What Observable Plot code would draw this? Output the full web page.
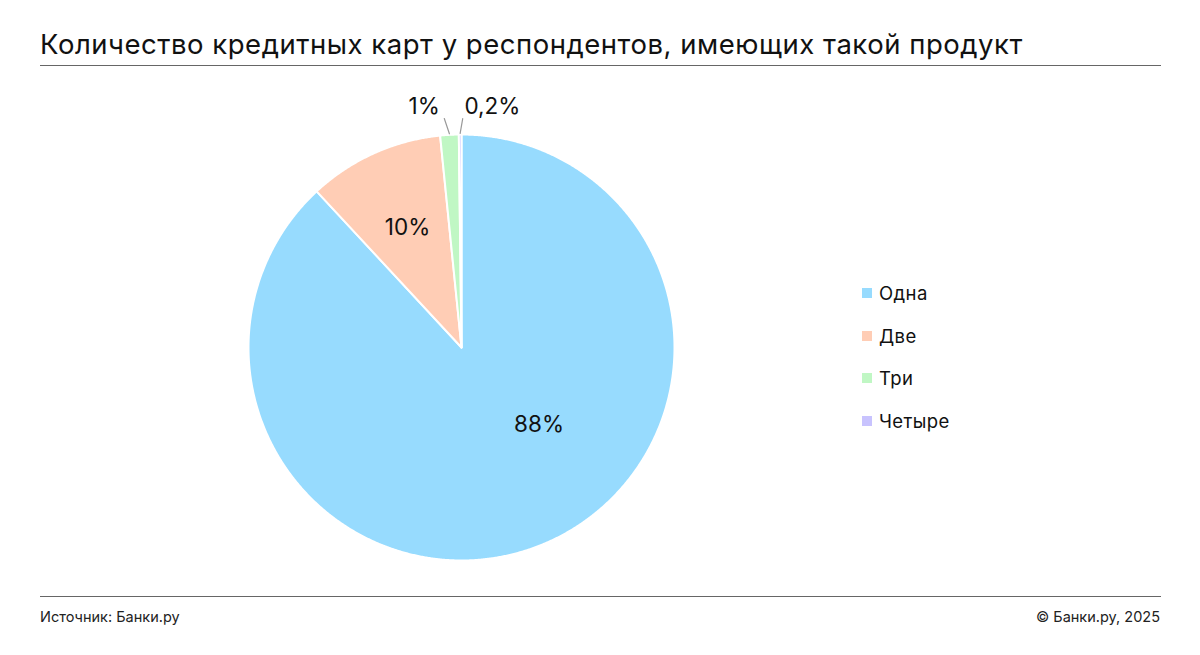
<!DOCTYPE html>
<html>
<head>
<meta charset="utf-8">
<script src="https://cdn.jsdelivr.net/npm/d3@7"></script>
<script src="https://cdn.jsdelivr.net/npm/@observablehq/plot@0.6"></script>
<style>
  html, body { margin: 0; padding: 0; background: #fff; }
  body { width: 1200px; height: 655px; position: relative; font-family: Inter, "Noto Sans", sans-serif; color: #111; overflow: hidden; }
  #title { position: absolute; left: 40px; top: 27px; font-size: 27.5px; line-height: 34px; letter-spacing: 0.52px; white-space: nowrap; }
  .rule { position: absolute; left: 40px; width: 1121px; height: 1px; background: #666; }
  #chart { position: absolute; left: 40px; top: 67px; }
  #legend { position: absolute; left: 862px; top: 281px; font-size: 18.5px; letter-spacing: 0.4px; }
  .item { display: flex; align-items: center; height: 24px; margin-bottom: 18.7px; }
  .sw { width: 10px; height: 10px; margin-right: 7px; }
  .foot { position: absolute; top: 608px; font-size: 14.5px; color: #222; }
</style>
</head>
<body>
<div id="title">Количество кредитных карт у респондентов, имеющих такой продукт</div>
<div class="rule" style="top:65px"></div>
<div id="chart"></div>
<div id="legend"></div>
<div class="rule" style="top:596px"></div>
<div class="foot" style="left:40px">Источник: Банки.ру</div>
<div class="foot" style="right:40px">© Банки.ру, 2025</div>
<script>
// Data
const categories = ["Одна", "Две", "Три", "Четыре"];
const values = [88.1, 10.3, 1.4, 0.2];
const labels = ["88%", "10%", "1%", "0,2%"];
const colors = ["#97dbfe", "#ffcdb5", "#c0f7c4", "#c8c3fe"];

const W = 1120, H = 529;
const cx = 421, cy = 280, R = 213;

const pie = d3.pie().sort(null).value(d => d.value)(
  categories.map((c, i) => ({cat: c, value: values[i], label: labels[i]}))
);

// polygon points for each slice (unit radius, angle clockwise from top)
const poly = [];
for (const s of pie) {
  const cat = s.data.cat;
  poly.push({cat, x: 0, y: 0});
  const n = Math.max(2, Math.ceil((s.endAngle - s.startAngle) / 0.005));
  for (let k = 0; k <= n; k++) {
    const a = s.startAngle + (s.endAngle - s.startAngle) * k / n;
    poly.push({cat, x: Math.sin(a), y: Math.cos(a)});
  }
  poly.push({cat, x: 0, y: 0});
}

// label placement (inside for big slices, outside with leader for tiny ones)
const inside = [], outside = [], leaders = [];
pie.forEach((s, i) => {
  const mid = (s.startAngle + s.endAngle) / 2;
  if (s.data.value > 5) {
    const a = i === 0 ? Math.PI * 0.75 : mid;
    const r = i === 0 ? 0.515 : 0.615;
    inside.push({x: r * Math.sin(a), y: r * Math.cos(a), label: s.data.label});
  } else {
    const off = i === 2 ? -1 : 1;
    const p0 = {x: Math.sin(mid) * 1.005, y: Math.cos(mid) * 1.005};
    const p1 = {x: p0.x + off * 0.012 + (i === 2 ? -0.012 : 0), y: 1.075};
    leaders.push({cat: s.data.cat, x: p0.x, y: p0.y}, {cat: s.data.cat, x: p1.x, y: p1.y});
    outside.push({x: i === 2 ? -0.175 : 0.145, y: 1.13, label: s.data.label});
  }
});

const chart = Plot.plot({
  width: W, height: H,
  margin: 0,
  x: {domain: [-1, 1], range: [cx - R, cx + R], axis: null},
  y: {domain: [-1, 1], range: [cy + R, cy - R], axis: null},
  color: {domain: categories, range: colors},
  style: {fontFamily: "Inter, 'Noto Sans', sans-serif", background: "transparent"},
  marks: [
    Plot.line(poly, {x: "x", y: "y", z: "cat", fill: "cat", stroke: "white", strokeWidth: 2, strokeLinejoin: "round", curve: "linear"}),
    Plot.line(leaders, {x: "x", y: "y", z: "cat", stroke: "#999", strokeWidth: 1.2}),
    Plot.text(inside, {x: "x", y: "y", text: "label", fontSize: 22.5, fill: "#111"}),
    Plot.text(outside, {x: "x", y: "y", text: "label", fontSize: 22.5, fill: "#111"})
  ]
});
document.getElementById("chart").appendChild(chart);

const lg = document.getElementById("legend");
categories.forEach((c, i) => {
  const it = document.createElement("div");
  it.className = "item";
  it.innerHTML = `<div class="sw" style="background:${colors[i]}"></div><span>${c}</span>`;
  lg.appendChild(it);
});
</script>
</body>
</html>
